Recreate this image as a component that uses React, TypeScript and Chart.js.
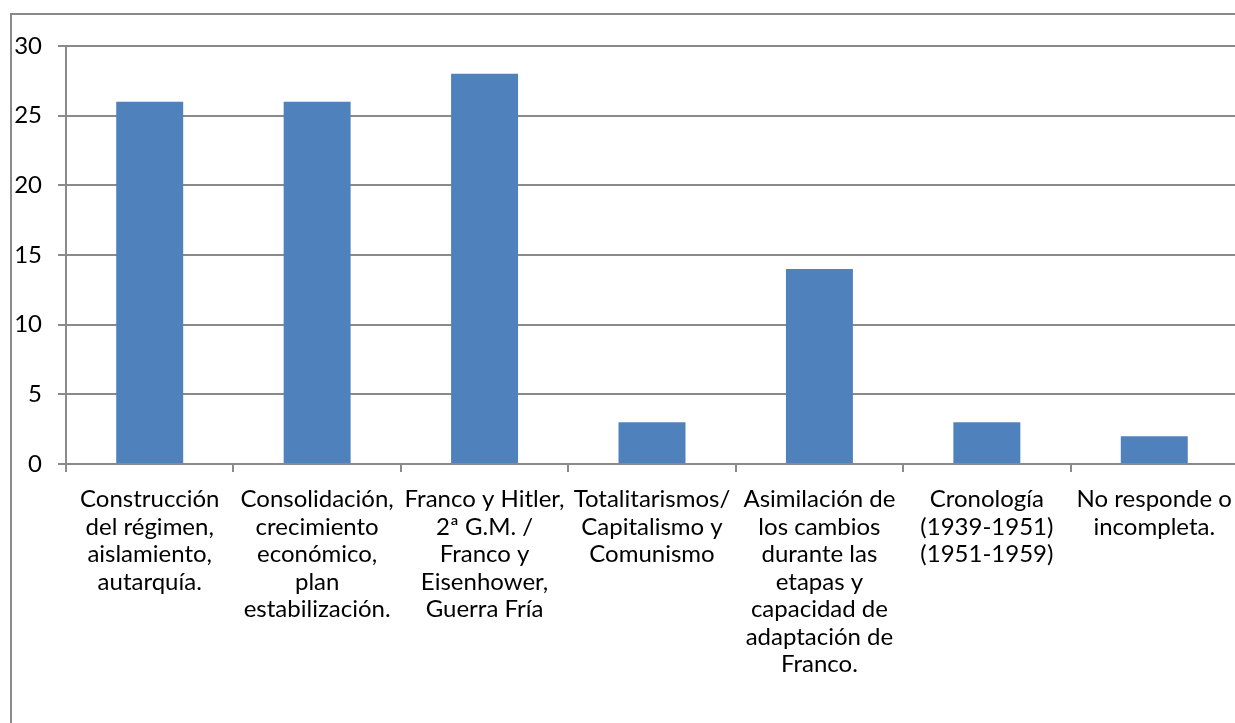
import React, { useEffect, useRef } from "react";
import { Chart, registerables } from "chart.js";

Chart.register(...registerables);

const categories: string[][] = [
  ["Construcción", "del régimen,", "aislamiento,", "autarquía."],
  ["Consolidación,", "crecimiento", "económico,", "plan", "estabilización."],
  ["Franco y Hitler,", "2ª G.M. /", "Franco y", "Eisenhower,", "Guerra Fría"],
  ["Totalitarismos/", "Capitalismo y", "Comunismo"],
  ["Asimilación de", "los cambios", "durante las", "etapas y", "capacidad de", "adaptación de", "Franco."],
  ["Cronología", "(1939-1951)", "(1951-1959)"],
  ["No responde o", "incompleta."],
];

const values: number[] = [26, 26, 28, 3, 14, 3, 2];

const yTicks: number[] = [0, 5, 10, 15, 20, 25, 30];

const GRID = "#8a8a8a";
const BAR = "#4f81bd";
const FONT = "Lato, 'Open Sans', sans-serif";

export default function App() {
  const ref = useRef<HTMLCanvasElement | null>(null);

  useEffect(() => {
    if (!ref.current) return;
    const chart = new Chart(ref.current, {
      type: "bar",
      data: {
        labels: categories,
        datasets: [
          {
            data: values,
            backgroundColor: BAR,
            borderWidth: 0,
            barPercentage: 0.4,
            categoryPercentage: 1,
          },
        ],
      },
      options: {
        responsive: false,
        animation: false,
        events: [],
        layout: { padding: { top: 31, right: 14, left: 0, bottom: 0 } },
        plugins: {
          legend: { display: false },
          tooltip: { enabled: false },
          title: { display: false },
        },
        scales: {
          x: {
            offset: true,
            grid: {
              offset: true,
              drawOnChartArea: false,
              drawTicks: true,
              tickLength: 8,
              color: GRID,
              lineWidth: 2,
            },
            border: { color: GRID, width: 2 },
            ticks: {
              autoSkip: false,
              maxRotation: 0,
              minRotation: 0,
              padding: 14,
              color: "#000",
              font: { family: FONT, size: 24, lineHeight: "27.5px" as any },
            },
            afterFit: (s: any) => {
              s.height = 289;
            },
          },
          y: {
            min: 0,
            max: 30,
            afterBuildTicks: (s: any) => {
              s.ticks = yTicks.map((v) => ({ value: v }));
            },
            grid: {
              color: GRID,
              lineWidth: 2,
              tickLength: 8,
              drawTicks: true,
            },
            border: { color: GRID, width: 2 },
            ticks: {
              padding: 16,
              color: "#000",
              font: { family: FONT, size: 24 },
            },
            afterFit: (s: any) => {
              s.width = 54;
            },
          },
        },
      },
    });
    return () => chart.destroy();
  }, []);

  return (
    <div
      style={{
        position: "fixed",
        left: 0,
        top: 0,
        width: 1235,
        height: 723,
        overflow: "hidden",
        background: "#fff",
      }}
    >
      <div
        style={{
          position: "absolute",
          left: 10,
          top: 13,
          width: 1260,
          height: 760,
          border: `2px solid ${GRID}`,
          boxSizing: "content-box",
        }}
      >
        <canvas
          ref={ref}
          width={1240}
          height={738}
          style={{ position: "absolute", left: 0, top: 0, width: 1240, height: 738 }}
        />
      </div>
    </div>
  );
}
